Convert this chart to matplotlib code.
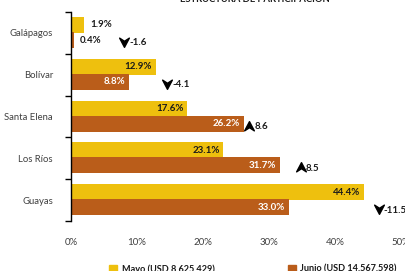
import matplotlib
matplotlib.use("Agg")
import matplotlib.pyplot as plt
from matplotlib.path import Path
from matplotlib.patches import Patch
import numpy as np

plt.rcParams['font.family'] = ['Lato', 'DejaVu Sans']

categories = ["Galápagos", "Bolívar", "Santa Elena", "Los Ríos", "Guayas"]
mayo = [1.9, 12.9, 17.6, 23.1, 44.4]
junio = [0.4, 8.8, 26.2, 31.7, 33.0]
variacion = [-1.6, -4.1, 8.6, 8.5, -11.5]
xticks = [0, 10, 20, 30, 40, 50]
label_mayo = "Mayo (USD 8.625.429)"
label_junio = "Junio (USD 14.567.598)"
title = "ESTRUCTURA DE PARTICIPACIÓN"

# layout-only positions for variation annotations (x in % units)
var_x = [8.0, 14.5, 27.0, 34.8, 46.6]

c_mayo = "#EEC00E"
c_junio = "#BA5D1A"

fig = plt.figure(figsize=(4.06, 2.71), dpi=100)
x0 = 71
ppu = 6.6
ax = fig.add_axes([x0/406, 1-221/271, 60*ppu/406, 209/271])

y = np.arange(len(categories))
h = 0.38
ax.barh(y - 0.19, mayo, height=h, color=c_mayo, zorder=2)
ax.barh(y + 0.17, junio, height=h, color=c_junio, zorder=2)

ax.set_xlim(0, 60)
ax.set_ylim(len(categories) - 0.5, -0.5)

for i, (m, j) in enumerate(zip(mayo, junio)):
    if m > 6:
        ax.text(m - 0.6, i - 0.19, f"{m:.1f}%", ha="right", va="center",
                fontsize=7, fontweight="bold", color="#1a1a1a")
    else:
        ax.text(m + 1.1, i - 0.19, f"{m:.1f}%", ha="left", va="center",
                fontsize=7, fontweight="bold", color="#1a1a1a")
    if j > 6:
        ax.text(j - 0.6, i + 0.17, f"{j:.1f}%", ha="right", va="center",
                fontsize=7, fontweight="bold", color="white")
    else:
        ax.text(j + 1.0, i + 0.17, f"{j:.1f}%", ha="left", va="center",
                fontsize=7, fontweight="bold", color="#1a1a1a")

down = Path([(0, -1), (-1, 0.9), (0, 0.25), (1, 0.9), (0, -1)],
            [Path.MOVETO, Path.LINETO, Path.LINETO, Path.LINETO, Path.CLOSEPOLY])
up = Path([(0, 1), (-1, -0.9), (0, -0.25), (1, -0.9), (0, 1)],
          [Path.MOVETO, Path.LINETO, Path.LINETO, Path.LINETO, Path.CLOSEPOLY])

for i, (v, xv) in enumerate(zip(variacion, var_x)):
    yy = i + 0.22
    ax.plot([xv], [yy], marker=down if v < 0 else up, markersize=7,
            color="black", linestyle="none", zorder=3, clip_on=False)
    ax.text(xv + 0.8, yy + 0.02, f"{v:.1f}", ha="left", va="center",
            fontsize=7, fontweight="bold", color="#1a1a1a")

ax.set_yticks(np.arange(len(categories) + 1) - 0.5, minor=False)
ax.set_yticklabels([])
ax.set_yticks(y, minor=True)
ax.set_yticklabels(categories, minor=True, fontsize=6.8, color="#404040")
ax.tick_params(axis="y", which="major", length=4, width=1, color="black", direction="out")
ax.tick_params(axis="y", which="minor", length=0, pad=13)

ax.set_xticks(xticks)
ax.set_xticklabels([f"{t}%" for t in xticks], fontsize=7, color="#404040")
ax.tick_params(axis="x", length=0, pad=12)

for s in ["top", "right", "bottom"]:
    ax.spines[s].set_visible(False)
ax.spines["left"].set_color("black")
ax.spines["left"].set_linewidth(1)

fig.text(255/406, 1-1.5/271, title, ha="center", va="baseline",
         fontsize=6.8, fontweight="bold", color="#1a1a1a")

handles = [Patch(color=c_mayo, label=label_mayo), Patch(color=c_junio, label=label_junio)]
fig.legend(handles=handles, loc="center", bbox_to_anchor=(253/406, 2/271), ncol=2,
           frameon=False, handlelength=0.85, handleheight=0.85,
           handletextpad=0.5, columnspacing=8.0, labelcolor="#1a1a1a",
           prop={"weight": "bold", "size": 6.6})

fig.savefig("out.png", dpi=100)
